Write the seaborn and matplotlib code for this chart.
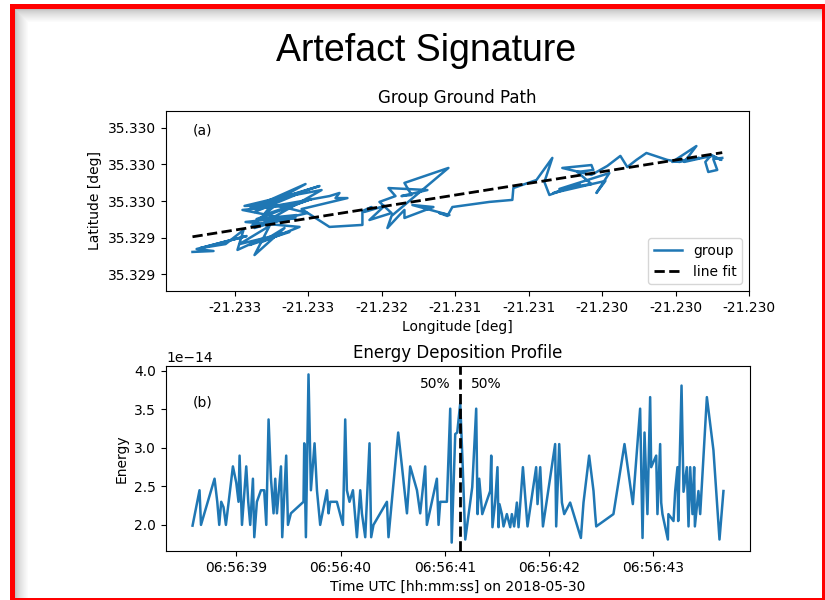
import numpy as np
import pandas as pd
import matplotlib
matplotlib.use("Agg")
import matplotlib.pyplot as plt
import matplotlib.dates as mdates
import seaborn as sns

# ---------------- data ----------------
lon_ref = -21.2330          # deg
lat_ref = 35.3292           # deg
# ground path offsets in 1e-5 deg
path_dlon = [-28.6, -14.3, -25.8, 8.2, -23.1, -6.1, 6.1, 2.0, 18.4, 10.2,
             37.4, 3.4, 23.8, 13.6, 34.0, 18.4, 44.2, 7.5, 32.6, 5.4,
             39.4, 6.8, 46.2, 13.6, 48.3, 10.2, 27.9, 19.7, 52.4, 15.0,
             42.2, 13.6, 59.2, 33.3, 57.8, 22.4, 49.6, 23.8, 41.5, 11.6,
             27.2, 64.6, 71.4, 68.7, 76.8, 45.6, 64.6, 87.0, 87.0, 93.2,
             88.4, 102.0, 91.8, 106.8, 98.6, 109.5, 104.7, 131.2, 113.6, 120.4,
             115.6, 145.5, 106.8, 104.0, 112.2, 115.6, 115.6, 135.3, 121.0, 146.2,
             139.4, 144.8, 148.2, 173.4, 189.0, 189.7, 205.4, 216.2, 210.8, 214.2,
             234.6, 216.9, 252.3, 246.2, 255.0, 221.0, 242.8, 233.2, 244.1, 242.8,
             223.0, 242.8, 253.6, 262.5, 267.2, 273.4, 280.2, 294.4, 302.6, 316.2,
             297.8, 314.2, 306.0, 324.4, 331.2, 324.4, 320.3, 322.3, 328.4, 325.7, 331.8]
path_dlat = [12.1, 12.6, 13.7, 20.8, 14.2, 16.4, 24.1, 13.2, 19.2, 15.9,
             23.0, 16.4, 26.3, 10.4, 25.2, 17.5, 25.8, 28.5, 30.7, 35.1,
             37.8, 37.3, 44.9, 34.0, 49.3, 35.6, 40.6, 32.3, 41.1, 30.1,
             32.3, 25.2, 46.0, 42.2, 48.2, 38.9, 33.4, 28.5, 30.7, 26.3,
             37.3, 42.7, 44.4, 41.6, 41.6, 35.6, 25.8, 26.9, 34.5, 36.7,
             34.0, 37.3, 29.6, 33.4, 39.5, 42.7, 47.1, 46.0, 42.7, 43.3,
             49.9, 58.1, 31.8, 25.2, 32.3, 35.1, 30.7, 36.7, 37.8, 32.3,
             33.4, 31.8, 36.7, 39.5, 40.6, 47.1, 51.5, 63.6, 50.4, 43.3,
             49.3, 44.4, 51.0, 44.4, 55.3, 46.6, 49.3, 55.9, 57.0, 59.7,
             58.1, 54.3, 59.2, 64.7, 58.6, 62.5, 66.3, 62.5, 61.4, 63.6,
             61.4, 70.1, 61.4, 64.7, 62.5, 65.2, 61.4, 55.9, 57.0, 63.0, 63.6]
fit_dlon = [-28.6, 331.8]
fit_dlat = [20.4, 66.5]

lon_ticks_d = [0, 50, 100, 150, 200, 250, 300, 350]
lon_tick_labels = ["-21.233", "-21.233", "-21.232", "-21.231",
                   "-21.231", "-21.230", "-21.230", "-21.230"]
lat_ticks_d = [0, 20, 40, 60, 80]
lat_tick_labels = ["35.329", "35.329", "35.330", "35.330", "35.330"]
lat_limits_d = [-9.3, 89.3]

t0 = "2018-05-30 06:56:38"
t_off = [0.581, 0.648, 0.662, 0.792, 0.818, 0.837, 0.856, 0.878, 0.901, 0.968,
         1.000, 1.022, 1.032, 1.055, 1.096, 1.115, 1.134, 1.160, 1.173, 1.198,
         1.237, 1.268, 1.288, 1.310, 1.333, 1.358, 1.374, 1.390, 1.409, 1.429,
         1.441, 1.479, 1.496, 1.524, 1.645, 1.652, 1.668, 1.693, 1.716, 1.751,
         1.774, 1.805, 1.870, 1.885, 1.901, 1.965, 2.023, 2.045, 2.061, 2.086,
         2.119, 2.157, 2.189, 2.205, 2.237, 2.278, 2.294, 2.316, 2.381, 2.445,
         2.460, 2.553, 2.589, 2.637, 2.668, 2.733, 2.764, 2.812, 2.828, 2.924,
         2.940, 2.956, 3.020, 3.052, 3.066, 3.100, 3.119, 3.148, 3.172, 3.196,
         3.263, 3.301, 3.314, 3.330, 3.359, 3.435, 3.445, 3.457, 3.483, 3.505,
         3.515, 3.524, 3.547, 3.563, 3.595, 3.627, 3.643, 3.665, 3.691, 3.707,
         3.749, 3.793, 3.876, 3.889, 3.915, 3.941, 4.058, 4.068, 4.097, 4.123,
         4.145, 4.202, 4.305, 4.330, 4.384, 4.426, 4.442, 4.452, 4.617, 4.723,
         4.803, 4.873, 4.896, 4.915, 4.943, 4.969, 4.979, 5.027, 5.039, 5.065,
         5.075, 5.087, 5.139, 5.144, 5.193, 5.209, 5.231, 5.238, 5.245, 5.270,
         5.289, 5.321, 5.337, 5.353, 5.375, 5.391, 5.398, 5.432, 5.449, 5.513,
         5.576, 5.634, 5.672]
energy_e14 = [1.99, 2.45, 2.00, 2.60, 2.30, 2.00, 2.30, 2.23, 2.00, 2.76,
              2.55, 2.30, 2.90, 2.00, 2.76, 2.30, 2.00, 2.60, 1.84, 2.30,
              2.45, 2.45, 2.00, 3.37, 2.60, 2.15, 2.60, 2.15, 2.45, 2.76,
              1.84, 2.90, 2.00, 2.15, 2.30, 3.06, 1.84, 3.955, 2.45, 3.06,
              2.45, 2.00, 2.45, 2.15, 2.30, 2.30, 2.00, 3.37, 2.45, 2.30,
              2.45, 1.84, 2.45, 2.15, 1.84, 3.06, 1.84, 2.00, 2.15, 2.30,
              1.84, 3.20, 2.76, 2.15, 2.76, 2.45, 2.15, 2.76, 2.00, 2.60,
              2.00, 2.30, 2.30, 3.51, 1.77, 3.18, 3.20, 3.58, 2.75, 1.81,
              2.49, 3.51, 2.14, 2.60, 2.14, 2.44, 2.90, 1.97, 2.30, 2.75,
              1.97, 2.27, 2.14, 1.98, 2.14, 1.97, 2.14, 1.98, 2.29, 1.97,
              2.75, 1.98, 2.75, 2.27, 2.75, 1.98, 3.05, 1.98, 3.05, 2.29,
              2.14, 2.29, 1.83, 2.29, 2.90, 2.44, 2.14, 1.98, 2.14, 3.05,
              2.27, 3.51, 1.83, 3.20, 2.14, 3.66, 2.75, 2.90, 2.14, 3.05,
              2.29, 2.14, 1.81, 2.14, 2.05, 2.44, 2.75, 2.05, 2.44, 3.81,
              2.43, 2.75, 1.98, 2.75, 2.14, 2.75, 1.98, 2.44, 2.14, 3.66,
              2.97, 1.81, 2.44]
half_t_off = 3.148
label_energy_e14 = 3.83

# ---------------- derived ----------------
lon = lon_ref + np.array(path_dlon) * 1e-5
lat = lat_ref + np.array(path_dlat) * 1e-5
fit_lon = lon_ref + np.array(fit_dlon) * 1e-5
fit_lat = lat_ref + np.array(fit_dlat) * 1e-5
times = pd.Timestamp(t0) + pd.to_timedelta(np.array(t_off), unit="s")
energy = np.array(energy_e14) * 1e-14
half_time = pd.Timestamp(t0) + pd.to_timedelta(half_t_off, unit="s")

blue = "#1f77b4"

fig = plt.figure(figsize=(8.25, 6), dpi=100)

# ---- frame (red border + soft shadow) ----
H, W = 600, 825
yy, xx = np.mgrid[0:H, 0:W]
ft = np.clip((yy - 9) / 13.0, 0, 1) ** 0.7
fl = np.clip((xx - 15) / 13.0, 0, 1) ** 0.7
g = 0.76 + 0.24 * np.minimum(ft, fl)
img = np.repeat(g[..., None], 3, axis=2)
outside = (xx < 10) | (yy < 4)
img[outside] = 1.0
red = (((xx >= 10) & (xx < 15) & (yy >= 4)) |
       ((yy >= 4) & (yy < 9) & (xx >= 10)) |
       ((xx >= 822) & (yy >= 4)) |
       ((yy >= 598) & (xx >= 10)))
img[red] = (1.0, 0.0, 0.0)
fig.figimage(img, xo=0, yo=0, origin="upper", zorder=-5)

fig.text(426 / 825, 1 - 51 / 600, "Artefact Signature", ha="center", va="center",
         fontsize=27, family=["Liberation Sans", "DejaVu Sans"])

# ---- top panel: ground path ----
ax1 = fig.add_axes([166 / 825, (600 - 291) / 600, 583 / 825, 180 / 600])
sns.lineplot(x=lon, y=lat, sort=False, estimator=None, ax=ax1, color=blue,
             linewidth=1.8, label="group")
sns.lineplot(x=fit_lon, y=fit_lat, sort=False, estimator=None, ax=ax1, color="k",
             linewidth=2, linestyle="--", label="line fit")
ax1.set_xticks(lon_ref + np.array(lon_ticks_d) * 1e-5)
ax1.set_xticklabels(lon_tick_labels)
ax1.set_yticks(lat_ref + np.array(lat_ticks_d) * 1e-5)
ax1.set_yticklabels(lat_tick_labels)
ax1.set_ylim(lat_ref + lat_limits_d[0] * 1e-5, lat_ref + lat_limits_d[1] * 1e-5)
ax1.set_xlabel("Longitude [deg]", fontsize=10)
ax1.set_ylabel("Latitude [deg]", fontsize=10)
ax1.set_title("Group Ground Path", fontsize=12)
ax1.text(0.046, 0.889, "(a)", transform=ax1.transAxes, ha="left", va="center", fontsize=10)
ax1.legend(loc="lower right", fontsize=10)

# ---- bottom panel: energy ----
ax2 = fig.add_axes([166 / 825, (600 - 551) / 600, 584 / 825, 185 / 600])
sns.lineplot(x=times, y=energy, sort=False, estimator=None, ax=ax2, color=blue,
             linewidth=1.8)
hx = mdates.date2num(half_time)
ax2.axvline(hx, color="k", linestyle="--", linewidth=2)
ax2.annotate("50%", xy=(hx, label_energy_e14 * 1e-14), xytext=(-7, 0),
             textcoords="offset points", ha="right", va="center", fontsize=10)
ax2.annotate("50%", xy=(hx, label_energy_e14 * 1e-14), xytext=(8, 0),
             textcoords="offset points", ha="left", va="center", fontsize=10)
ax2.xaxis.set_major_locator(mdates.SecondLocator())
ax2.xaxis.set_major_formatter(mdates.DateFormatter("%H:%M:%S"))
ax2.set_xlabel("Time UTC [hh:mm:ss] on 2018-05-30", fontsize=10)
ax2.set_ylabel("Energy", fontsize=10)
ax2.set_title("Energy Deposition Profile", fontsize=12)
ax2.text(0.046, 0.803, "(b)", transform=ax2.transAxes, ha="left", va="center", fontsize=10)
if ax2.get_legend() is not None:
    ax2.get_legend().remove()

fig.savefig("out.png", dpi=100)
